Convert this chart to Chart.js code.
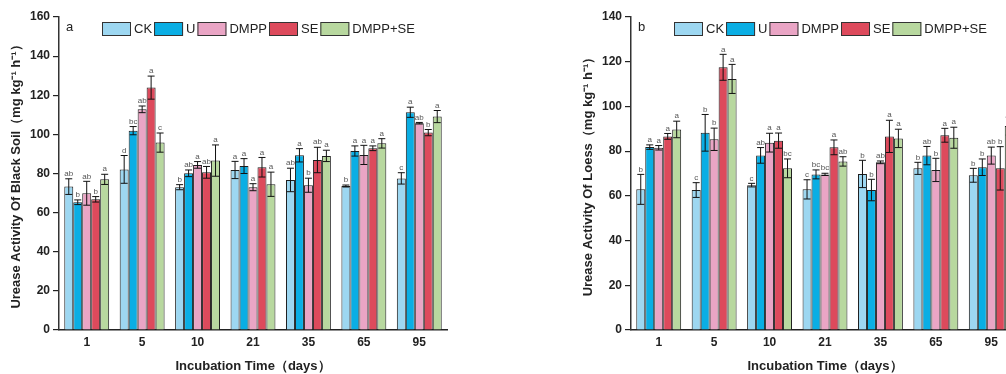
<!DOCTYPE html>
<html>
<head>
<meta charset="utf-8">
<script src="https://cdn.jsdelivr.net/npm/chart.js@4/dist/chart.umd.min.js"></script>
<style>
html, body { margin: 0; padding: 0; overflow: hidden; background: #fff; width: 1006px; height: 374px; }
.panel { position: absolute; top: 0; width: 460px; height: 374px; }
</style>
</head>
<body>
<div class="panel" style="left:0"><canvas id="blackChart"></canvas></div>
<div class="panel" style="left:572px"><canvas id="loessChart"></canvas></div>
<script>
const days = ['1', '5', '10', '21', '35', '65', '95'];
const treatments = ['CK', 'U', 'DMPP', 'SE', 'DMPP+SE'];
const colors = ['#9dd7f1', '#0aaee4', '#eaa5c5', '#dd4a5c', '#b8d89f'];

// black soil, rows = treatments, cols = days
const blackMean = [
    [73.3, 82.1, 73.0, 81.8, 76.7, 73.6, 77.5],
    [65.3, 101.9, 80.1, 83.8, 89.3, 91.5, 111.3],
    [69.9, 112.8, 84.4, 73.0, 74.0, 89.5, 105.7],
    [66.8, 123.9, 80.6, 83.2, 86.9, 92.9, 100.9],
    [77.0, 95.8, 86.6, 74.5, 89.0, 95.4, 109.1]
];
const blackErr = [
    [4.0, 7.1, 1.3, 4.4, 6.0, 0.5, 2.9],
    [1.2, 2.1, 1.7, 3.8, 3.4, 2.6, 2.6],
    [6.1, 1.7, 1.7, 1.8, 3.6, 4.9, 0.4],
    [1.4, 5.9, 3.0, 5.0, 6.5, 1.2, 1.6],
    [2.6, 4.9, 8.0, 6.2, 2.9, 2.4, 3.1]
];
const blackSig = [
    ['ab', 'd', 'b', 'a', 'ab', 'b', 'c'],
    ['b', 'bc', 'ab', 'a', 'a', 'a', 'a'],
    ['ab', 'ab', 'a', 'a', 'b', 'a', 'ab'],
    ['b', 'a', 'ab', 'a', 'ab', 'a', 'b'],
    ['a', 'c', 'a', 'a', 'a', 'a', 'a']
];

// loess
const loessMean = [
    [62.9, 62.6, 64.8, 62.9, 69.8, 72.3, 69.2],
    [81.8, 88.2, 78.1, 69.6, 62.6, 78.0, 72.8],
    [81.5, 85.3, 83.8, 69.6, 75.0, 71.6, 78.0],
    [86.6, 117.5, 84.7, 81.7, 86.6, 87.1, 72.3],
    [89.7, 112.3, 72.3, 75.4, 85.7, 86.0, 91.2]
];
const loessErr = [
    [6.7, 3.3, 0.8, 4.3, 6.1, 2.7, 3.1],
    [1.0, 8.2, 3.5, 2.0, 4.8, 4.1, 3.7],
    [1.0, 5.0, 4.2, 0.5, 0.6, 5.2, 3.8],
    [1.3, 5.8, 3.4, 3.3, 7.2, 3.1, 9.7],
    [3.7, 6.5, 4.2, 2.1, 4.1, 4.7, 4.0]
];
const loessSig = [
    ['b', 'c', 'c', 'c', 'b', 'b', 'b'],
    ['a', 'b', 'ab', 'bc', 'b', 'ab', 'b'],
    ['a', 'b', 'a', 'bc', 'ab', 'b', 'ab'],
    ['a', 'a', 'a', 'a', 'a', 'a', 'b'],
    ['a', 'a', 'bc', 'ab', 'a', 'a', 'a']
];

const FONT = '"Liberation Sans", Arial, sans-serif';

const errorBarPlugin = {
    id: 'errorBars',
    afterDatasetsDraw(chart) {
        const ctx = chart.ctx;
        const yScale = chart.scales.y;
        ctx.save();
        chart.data.datasets.forEach((ds, i) => {
            const meta = chart.getDatasetMeta(i);
            meta.data.forEach((bar, j) => {
                const v = ds.data[j];
                const e = ds.errors[j];
                const top = yScale.getPixelForValue(v + e);
                const bottom = yScale.getPixelForValue(v - e);
                ctx.strokeStyle = '#111';
                ctx.lineWidth = 1;
                ctx.beginPath();
                ctx.moveTo(bar.x, top);
                ctx.lineTo(bar.x, bottom);
                ctx.moveTo(bar.x - 3.5, top);
                ctx.lineTo(bar.x + 3.5, top);
                ctx.moveTo(bar.x - 3.5, bottom);
                ctx.lineTo(bar.x + 3.5, bottom);
                ctx.stroke();
                ctx.fillStyle = '#555';
                ctx.font = '8px ' + FONT;
                ctx.textAlign = 'center';
                ctx.textBaseline = 'bottom';
                ctx.fillText(ds.letters[j], bar.x, top - 1);
            });
        });
        ctx.restore();
    }
};

const boxLegendPlugin = {
    id: 'boxLegend',
    afterDraw(chart, args, opts) {
        const ctx = chart.ctx;
        const area = chart.chartArea;
        ctx.save();
        ctx.font = '13px ' + FONT;
        ctx.textBaseline = 'middle';
        ctx.textAlign = 'left';
        ctx.fillStyle = '#222';
        ctx.fillText(opts.panel, area.left + 7, 27);
        let x = area.left + 43;
        chart.data.datasets.forEach(ds => {
            ctx.fillStyle = ds.backgroundColor;
            ctx.fillRect(x, 22, 29, 14);
            ctx.strokeStyle = '#333';
            ctx.lineWidth = 1;
            ctx.strokeRect(x + 0.5, 22.5, 28, 13);
            x += 32;
            ctx.fillStyle = '#222';
            ctx.fillText(ds.label, x, 29.5);
            x += ctx.measureText(ds.label).width + 2;
        });
        ctx.restore();
    }
};

function makeChart(id, panel, yTitle, yMax, means, errs, sigs) {
    const ctx = document.getElementById(id).getContext('2d');
    const datasets = treatments.map((t, i) => ({
        label: t,
        data: means[i],
        errors: errs[i],
        letters: sigs[i],
        backgroundColor: colors[i],
        borderColor: '#1e1e1e',
        borderWidth: 1
    }));

    return new Chart(ctx, {
        type: 'bar',
        data: { labels: days, datasets: datasets },
        plugins: [errorBarPlugin, boxLegendPlugin],
        options: {
            responsive: true,
            maintainAspectRatio: false,
            animation: false,
            layout: { padding: { top: 17, right: 13, left: 0, bottom: 0 } },
            datasets: { bar: { categoryPercentage: 0.81, barPercentage: 1.0 } },
            plugins: {
                legend: { display: false },
                tooltip: { enabled: false },
                boxLegend: { panel: panel }
            },
            scales: {
                x: {
                    offset: true,
                    grid: { display: true, drawOnChartArea: false, drawTicks: false },
                    border: { display: true, color: '#222', width: 1.5 },
                    ticks: { color: '#222', font: { family: FONT, size: 12, weight: 'bold' }, padding: 5 },
                    title: {
                        display: true,
                        text: 'Incubation Time（days）',
                        color: '#222',
                        font: { family: FONT, size: 13, weight: 'bold' },
                        padding: { top: 0, bottom: 0 }
                    },
                    afterFit(scale) { scale.height = 44; }
                },
                y: {
                    min: 0,
                    max: yMax,
                    grid: { display: true, drawOnChartArea: false, drawTicks: true, tickLength: 6, tickColor: '#222', lineWidth: 1.2 },
                    border: { display: true, color: '#333', width: 1.5 },
                    ticks: { stepSize: 20, color: '#222', font: { family: FONT, size: 12, weight: 'bold' }, padding: 3 },
                    title: {
                        display: true,
                        text: yTitle,
                        color: '#222',
                        font: { family: FONT, size: 13, weight: 'bold' },
                        padding: { top: 9, bottom: 0 }
                    },
                    afterFit(scale) { scale.width = 59; }
                }
            }
        }
    });
}

makeChart('blackChart', 'a', 'Urease Activity Of Black Soil（mg kg⁻¹ h⁻¹）', 160, blackMean, blackErr, blackSig);
makeChart('loessChart', 'b', 'Urease Activity Of Loess（mg kg⁻¹ h⁻¹）', 140, loessMean, loessErr, loessSig);
</script>
</body>
</html>
